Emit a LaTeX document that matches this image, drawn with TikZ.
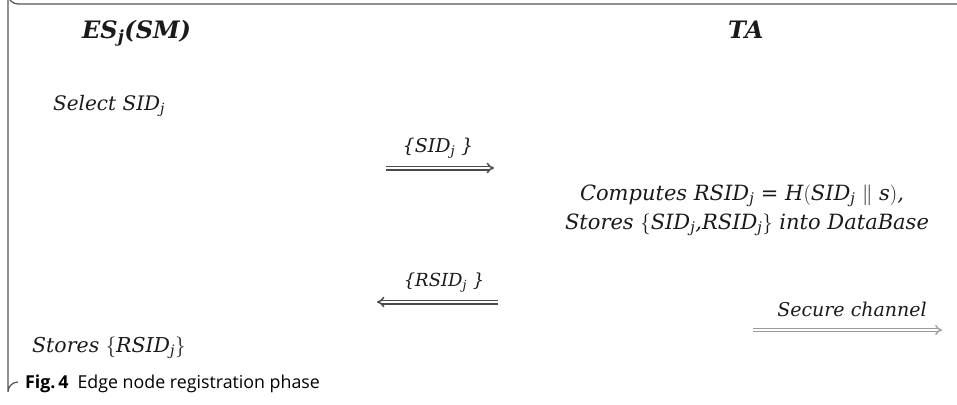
\documentclass[tikz,border=0pt]{standalone}
\usepackage{fontspec}
\setmainfont{DejaVu Serif}
\newfontfamily\capfont{Open Sans}
\usetikzlibrary{arrows.meta}
\newcommand\ssub[1]{\textsubscript{#1}}
\definecolor{framecol}{HTML}{555555}
\definecolor{arrcol}{HTML}{4A4A4A}
\definecolor{secol}{HTML}{9A9A9A}
\definecolor{txtcol}{HTML}{1A1A1A}
\begin{document}
\begin{tikzpicture}[x=1pt,y=-1pt,
  txt/.style={inner sep=0pt, text=txtcol, font=\fontsize{20}{24}\selectfont\itshape, anchor=base west},
  big/.style={txt, font=\fontsize{21}{24}\selectfont\itshape, anchor=base},
  ttl/.style={inner sep=0pt, text=txtcol, font=\fontsize{24}{30}\selectfont\bfseries\itshape, anchor=base west},
  lbl/.style={inner sep=0pt, text=txtcol, font=\fontsize{18}{20}\selectfont\itshape, anchor=base},
  dbl/.style={double, double distance=2pt, line width=1.5pt, draw=arrcol, -{Implies}},
  sec/.style={double, double distance=2pt, line width=1.3pt, draw=secol, -{Implies}}]
\useasboundingbox (0,0) rectangle (957,404);
\draw[framecol, line width=1.2pt] (957,4) -- (18,4) arc[start angle=90,end angle=180,radius=10] -- (8,392) arc[start angle=180,end angle=270,radius=10];
\node[ttl] (es) at (82,38) {ES\ssub{j}(SM)};
\node[ttl] (ta) at (728,38) {TA};
\node[txt] (sel) at (53,110) {Select SID\ssub{j}};
\node[lbl, font=\fontsize{19}{20}\selectfont\itshape] (l1) at (438,152) {\{SID\ssub{j} \}};
\coordinate (a1s) at (386,168);
\coordinate (a1e) at (494,168);
\draw[dbl] (a1s) -- (a1e);
\node[big] (c1) at (742,200) {Computes RSID\ssub{j} = H$\bigl($SID\ssub{j} $\parallel$ s$\bigr)$,};
\node[big] (c2) at (747,229) {Stores $\bigl\{$SID\ssub{j},RSID\ssub{j}$\bigr\}$ into DataBase};
\node[lbl] (l2) at (444,286) {\{RSID\ssub{j} \}};
\coordinate (a2s) at (498,302);
\coordinate (a2e) at (377,302);
\draw[dbl] (a2s) -- (a2e);
\node[lbl, font=\fontsize{19}{20}\selectfont\itshape] (sc) at (852,316) {Secure channel};
\coordinate (a3s) at (753,330);
\coordinate (a3e) at (942,330);
\draw[sec] (a3s) -- (a3e);
\node[txt, font=\fontsize{20.5}{24}\selectfont\itshape] (st) at (32,352) {Stores $\bigl\{$RSID\ssub{j}$\bigr\}$};
\node[inner sep=0pt, anchor=base west, font=\capfont\fontsize{17.8}{20}\selectfont] (cap) at (25,388) {\textbf{Fig.\,4}\enspace Edge node registration phase};
\end{tikzpicture}
\end{document}
